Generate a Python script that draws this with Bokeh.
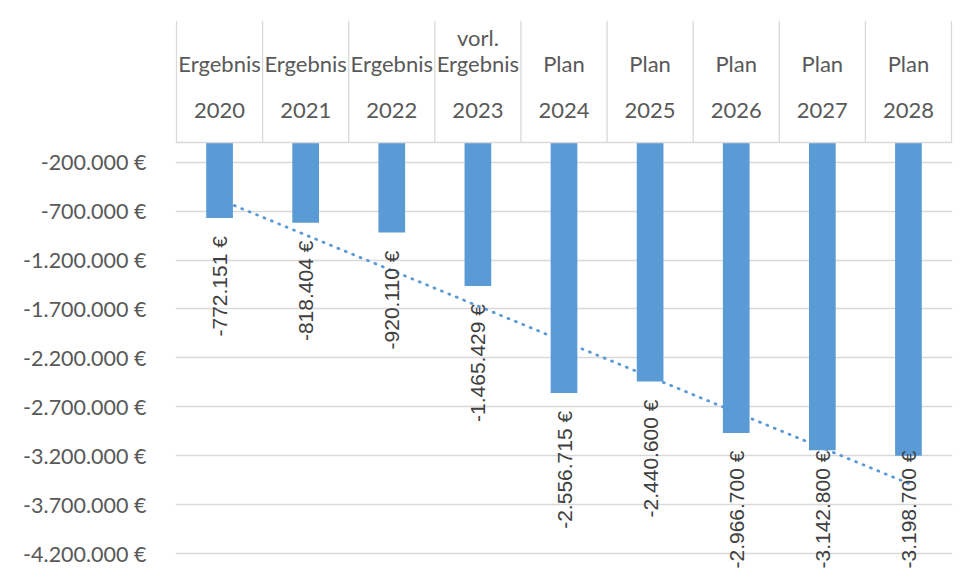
import numpy as np
from bokeh.plotting import figure
from bokeh.models import FixedTicker, Range1d, Span, ColumnDataSource
from bokeh.core.properties import value
from bokeh.embed import file_html
from bokeh.resources import INLINE

# ---------------- data ----------------
cat_line1 = ["", "", "", "vorl.", "", "", "", "", ""]
cat_line2 = ["Ergebnis", "Ergebnis", "Ergebnis", "Ergebnis", "Plan", "Plan", "Plan", "Plan", "Plan"]
cat_years = ["2020", "2021", "2022", "2023", "2024", "2025", "2026", "2027", "2028"]
values = [-772151, -818404, -920110, -1465429, -2556715, -2440600, -2966700, -3142800, -3198700]
value_labels = ["-772.151 €", "-818.404 €", "-920.110 €", "-1.465.429 €", "-2.556.715 €",
                "-2.440.600 €", "-2.966.700 €", "-3.142.800 €", "-3.198.700 €"]
tick_values = [-200000, -700000, -1200000, -1700000, -2200000, -2700000, -3200000, -3700000, -4200000]
tick_labels = ["-200.000 €", "-700.000 €", "-1.200.000 €", "-1.700.000 €", "-2.200.000 €",
               "-2.700.000 €", "-3.200.000 €", "-3.700.000 €", "-4.200.000 €"]
AXIS_MIN = -4200000

# ---------------- layout (canvas pixels) ----------------
W, H = 962, 570
B_L, B_R, B_T = 175, 10, 20
zero_px = 142            # canvas y of value 0
min_px = 553.3           # canvas y of AXIS_MIN
k = (min_px - zero_px) / -AXIS_MIN          # px per unit
y_top = (zero_px - B_T) / k
y_bot = AXIS_MIN - (H - min_px) / k
pad = 1 / 86.1

BLUE = "#5B9BD5"
GRID = "#D9D9D9"
AX_TXT = "#595959"
LBL_TXT = "#404040"

LBL_SIZE = 21
LBL_GAP = 18
LBL_LIMIT = H - 2        # labels are kept inside the chart area (like Excel)
char_w = {"-": 0.333, ".": 0.278, " ": 0.278}

def label_len(s):
    return sum(char_w.get(c, 0.556) for c in s) * LBL_SIZE

xs = list(range(1, len(values) + 1))
offsets = []
for v, s in zip(values, value_labels):
    start = zero_px + (-v) * k + LBL_GAP
    over = start + label_len(s) - LBL_LIMIT
    offsets.append(LBL_GAP - max(0.0, over))

p = figure(width=W, height=H, x_range=Range1d(0.5 - pad, len(values) + 0.5 + pad),
           y_range=Range1d(y_bot, y_top), output_backend="svg", toolbar_location=None,
           x_axis_location=None, min_border_left=B_L, min_border_right=B_R,
           min_border_top=B_T, min_border_bottom=0)
p.outline_line_color = None
p.background_fill_color = "white"
p.border_fill_color = "white"

# y axis
p.yaxis.ticker = FixedTicker(ticks=tick_values)
p.yaxis.major_label_overrides = {v: l for v, l in zip(tick_values, tick_labels)}
p.yaxis.axis_line_color = None
p.yaxis.major_tick_line_color = None
p.yaxis.minor_tick_line_color = None
p.yaxis.major_tick_out = 0
p.yaxis.major_tick_in = 0
p.yaxis.major_label_standoff = 29
p.yaxis.major_label_text_font = "Lato"
p.yaxis.major_label_text_font_size = "21.5px"
p.yaxis.major_label_text_color = AX_TXT

p.xgrid.visible = False
p.ygrid.ticker = FixedTicker(ticks=tick_values)
p.ygrid.grid_line_color = GRID
p.ygrid.grid_line_width = 1.3

# header cell lines
bounds = [x - 0.5 for x in xs] + [xs[-1] + 0.5]
p.segment(x0=bounds, y0=[0] * len(bounds), x1=bounds, y1=[y_top] * len(bounds),
          line_color=GRID, line_width=1.3)
p.add_layout(Span(location=0, dimension="width", line_color=GRID, line_width=1.3))

# header texts
hdr_font = dict(text_font=value("Lato"), text_font_size="22px", text_color=AX_TXT,
                text_align="center", text_baseline="middle")
p.text(x=xs, y=[0] * len(xs), text=cat_line1, y_offset=-105, **hdr_font)
p.text(x=xs, y=[0] * len(xs), text=cat_line2, y_offset=-79, **hdr_font)
p.text(x=xs, y=[0] * len(xs), text=cat_years, y_offset=-32, **hdr_font)

# linear trendline (behind bars)
slope, icpt = np.polyfit(xs, values, 1)
tx = [xs[0], xs[-1]]
ty = [slope * x + icpt for x in tx]
p.line(tx, ty, line_color=BLUE, line_width=2.8, line_dash="1 7", line_cap="round")

# bars
p.vbar(x=xs, top=0, bottom=values, width=0.31, fill_color=BLUE, line_color=None)

# data labels
lbl_src = ColumnDataSource(dict(x=xs, y=values, text=value_labels, yo=offsets))
p.text(x="x", y="y", text="text", source=lbl_src, angle=np.pi / 2, text_align="right",
       text_baseline="middle", y_offset="yo", text_font=value("Liberation Sans"),
       text_font_size=f"{LBL_SIZE}px", text_color=LBL_TXT)

open("out.html", "w").write(file_html(p, INLINE))
